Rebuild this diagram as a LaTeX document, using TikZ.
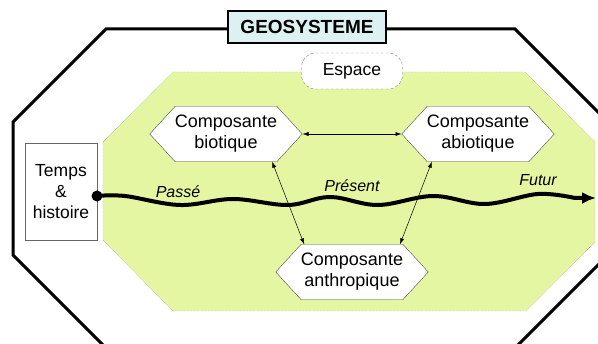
\documentclass[tikz,border=0pt]{standalone}
\usepackage{fontspec}
\setmainfont{Liberation Sans}
\usetikzlibrary{shapes.symbols,arrows.meta}
\definecolor{geofond}{RGB}{229,246,163}
\definecolor{titrefond}{RGB}{220,242,242}
\tikzset{
  compo/.style={shape=signal, signal to=east and west, signal pointer angle=95,
    draw=black!70, fill=white, minimum width=150, minimum height=55,
    inner sep=0pt, align=center, font=\fontsize{18}{21}\selectfont},
  doublefl/.style={{Latex[length=6,width=4]}-{Latex[length=6,width=4]}, line width=0.5},
  temps/.style={font=\fontsize{16}{18}\selectfont\itshape}
}
\begin{document}
\begin{tikzpicture}[x=1pt,y=-1pt]
\useasboundingbox (0,0) rectangle (598,344);
\draw[line width=3] (106,29) -- (515,29) -- (608,122) -- (608,255) -- (515,348)
  -- (106,348) -- (13,255) -- (13,122) -- cycle;
\node[draw, line width=2.5, fill=titrefond, minimum width=158, minimum height=32,
  font=\fontsize{19}{21}\selectfont\bfseries] (titre) at (307,27) {GEOSYSTEME};

\draw[densely dotted, draw=black!45, fill=geofond] (173,72) -- (525,72) -- (595,142)
  -- (595,242) -- (526,311) -- (173,311) -- (103,240) -- (103,142) -- cycle;
\node[draw=black!50, densely dashed, fill=white, rounded corners=14, minimum width=101,
  minimum height=36, font=\fontsize{17.5}{20}\selectfont] (espace) at (352,71) {Espace};

\node[draw=black!60, fill=white, minimum width=72, minimum height=97, inner sep=0pt,
  align=center, font=\fontsize{17.5}{21}\selectfont] (tempsh) at (61,191.5) {Temps\\\&\\histoire};

\node[compo] (bio) at (226,134) {Composante\\biotique};
\node[compo] (abio) at (478,134) {Composante\\abiotique};
\node[compo] (anthro) at (352,272) {Composante\\anthropique};
\foreach \a/\b in {bio.east/abio.west, bio.-31/anthro.150, abio.-149/anthro.30}
  \draw[doublefl] (\a) -- (\b);

\node[circle, fill=black, minimum size=11, inner sep=0pt] (depart) at (97,196) {};
\coordinate (fin) at (596,198);
\draw[line width=4, -{Latex[length=14,width=12]}] (depart.center) plot[smooth, tension=0.6]
  coordinates {(97,196) (125,196) (180,205) (233,199) (288,205) (330,197) (378,205)
  (433,196) (485,204) (538,194) (575,198)} -- (fin);
\node[temps] (passe) at (178,192) {Passé};
\node[temps] (present) at (352,186) {Présent};
\node[temps] (futur) at (538,180) {Futur};
\end{tikzpicture}
\end{document}
